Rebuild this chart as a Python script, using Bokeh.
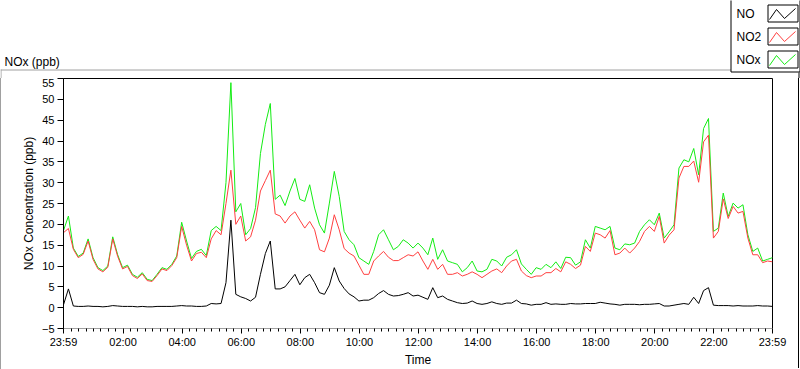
from bokeh.plotting import figure
from bokeh.models import Range1d, FixedTicker, ColumnDataSource
from bokeh.layouts import column
from bokeh.embed import file_html
from bokeh.resources import INLINE
from bokeh.core.properties import value

FONT = "Liberation Sans"

# ---- data: readings every 10 minutes starting at 23:59 (ppb) ----
sample_step_min = 10

nox_ppb = [18.5, 22.0, 14.3, 12.3, 13.1, 16.5, 12.0, 9.6, 8.9, 10.0,
           17.0, 12.7, 9.6, 10.2, 8.0, 7.3, 8.4, 6.8, 6.5, 8.0,
           9.6, 9.2, 10.4, 12.4, 20.5, 16.0, 11.8, 13.5, 14.0, 12.5,
           18.5, 19.5, 18.5, 30.0, 54.0, 23.0, 25.0, 17.5, 19.0, 24.0,
           37.0, 44.0, 49.0, 26.0, 27.0, 24.5, 28.0, 31.0, 26.0, 25.5,
           29.5, 23.9, 19.9, 17.9, 25.1, 32.7, 26.7, 18.3, 16.3, 15.1,
           12.0, 11.2, 10.4, 13.5, 17.5, 18.7, 16.3, 13.9, 14.7, 16.3,
           15.5, 14.3, 15.5, 14.3, 12.7, 16.7, 11.6, 13.9, 11.2, 10.8,
           10.4, 8.6, 9.6, 11.2, 8.8, 8.6, 9.2, 11.6, 11.2, 10.0,
           12.1, 12.7, 13.9, 10.5, 9.2, 8.0, 9.6, 9.2, 10.4, 9.6,
           11.0, 9.4, 12.1, 12.0, 10.2, 11.0, 16.3, 14.3, 19.5, 19.1,
           18.7, 19.5, 14.3, 13.9, 15.3, 15.1, 15.5, 18.3, 19.9, 21.1,
           19.9, 22.7, 16.7, 18.2, 19.9, 33.5, 35.5, 35.0, 38.2, 31.9,
           43.0, 45.4, 18.3, 19.1, 27.5, 21.9, 25.1, 23.9, 24.7, 17.5,
           13.5, 14.3, 11.2, 11.6, 12.0]

no2_ppb = [18.0, 19.0, 14.0, 12.0, 12.8, 16.0, 11.6, 9.3, 8.6, 9.7,
           16.5, 12.3, 9.3, 9.9, 7.7, 7.0, 8.1, 6.5, 6.3, 7.7,
           9.3, 8.9, 10.1, 12.0, 19.5, 15.0, 11.2, 13.0, 13.3, 12.0,
           16.5, 18.5, 17.5, 25.0, 33.0, 20.0, 22.0, 16.0, 17.0, 21.0,
           28.0, 30.5, 33.0, 22.5, 22.0, 20.3, 22.0, 23.0, 21.0, 19.1,
           20.7, 18.7, 13.9, 13.4, 16.7, 22.3, 18.7, 14.2, 13.1, 12.4,
           10.2, 8.0, 8.0, 11.2, 12.4, 13.5, 12.1, 11.3, 11.3, 12.0,
           12.7, 12.4, 13.4, 11.2, 9.2, 11.6, 9.2, 10.4, 8.0, 8.0,
           8.4, 7.6, 8.0, 8.6, 8.0, 7.2, 8.0, 8.8, 9.3, 8.4,
           10.0, 11.2, 11.6, 8.8, 7.7, 7.2, 7.6, 7.6, 8.4, 8.4,
           9.4, 8.6, 11.0, 10.4, 9.4, 10.2, 14.7, 13.5, 17.9, 17.5,
           16.7, 18.5, 12.7, 13.1, 14.3, 13.1, 14.3, 15.9, 18.3, 19.5,
           18.3, 21.9, 15.5, 17.4, 18.7, 31.1, 33.9, 33.9, 35.2, 30.1,
           39.8, 41.4, 16.7, 18.3, 26.1, 21.4, 24.3, 22.7, 23.1, 16.7,
           12.7, 12.7, 10.8, 11.2, 11.0]

no_ppb = [0.7, 4.5, 0.4, 0.3, 0.3, 0.4, 0.3, 0.3, 0.2, 0.3,
          0.5, 0.4, 0.3, 0.3, 0.3, 0.2, 0.3, 0.2, 0.2, 0.3,
          0.3, 0.3, 0.3, 0.4, 0.5, 0.4, 0.4, 0.3, 0.3, 0.4,
          1.0, 0.9, 1.0, 6.0, 21.0, 3.2, 2.6, 2.2, 1.6, 2.5,
          8.0, 13.0, 16.0, 4.5, 4.5, 5.0, 6.5, 8.0, 5.5, 7.2,
          8.0, 6.0, 3.6, 3.2, 5.4, 9.6, 6.4, 4.6, 3.3, 2.6,
          1.6, 1.8, 1.8, 2.4, 3.4, 4.1, 3.2, 2.8, 2.9, 3.2,
          3.6, 2.8, 3.0, 2.5, 2.0, 4.8, 2.4, 2.8, 2.0, 1.6,
          1.2, 1.0, 1.1, 1.6, 1.0, 0.8, 1.0, 1.4, 1.0, 0.8,
          1.1, 1.1, 1.8, 1.0, 0.9, 0.6, 0.8, 0.8, 1.2, 0.8,
          0.9, 0.8, 0.8, 1.0, 0.9, 0.9, 1.0, 1.0, 1.0, 1.3,
          1.1, 0.9, 0.8, 0.6, 0.8, 0.8, 0.8, 0.7, 0.8, 0.8,
          0.9, 1.0, 0.4, 0.4, 0.6, 0.8, 1.0, 0.8, 2.5, 1.0,
          4.1, 4.8, 0.6, 0.5, 0.5, 0.5, 0.4, 0.5, 0.4, 0.4,
          0.4, 0.5, 0.4, 0.4, 0.3]

minutes = [i * sample_step_min for i in range(len(nox_ppb))]

series_names = ["NO", "NO2", "NOx"]
series_colors = ["#000000", "#ff4040", "#14ec14"]

time_tick_labels = ["23:59", "02:00", "04:00", "06:00", "08:00", "10:00", "12:00",
                    "14:00", "16:00", "18:00", "20:00", "22:00", "23:59"]
y_ticks = [-5, 0, 5, 10, 15, 20, 25, 30, 35, 40, 45, 50, 55]

SPAN = 1440
START = 23 * 60 + 59


def tick_pos(label, idx, n):
    if idx == 0:
        return 0
    if idx == n - 1:
        return SPAN
    h, m = map(int, label.split(":"))
    return (h * 60 + m - START) % SPAN


n_lab = len(time_tick_labels)
major_pos = [tick_pos(l, i, n_lab) for i, l in enumerate(time_tick_labels)]
minor_pos = [1 + 15 * k for k in range(96)
             if min(abs(1 + 15 * k - mp) for mp in major_pos) > 5]

# ---- layout ----
W = 800
H_TOP = 78
H_MAIN = 369 - H_TOP

# top strip: caption + legend (pixel coordinates)
top = figure(width=W, height=H_TOP, x_range=Range1d(0, W), y_range=Range1d(H_TOP, 0),
             x_axis_type=None, y_axis_type=None, toolbar_location=None,
             output_backend="svg", min_border=0, outline_line_color=None)
top.xgrid.visible = False
top.ygrid.visible = False

top.text(x=[4], y=[61], text=["NOx (ppb)"], text_font=value(FONT),
         text_font_size=value("12px"), text_baseline="alphabetic", text_align="left",
         text_color="black")

# panel edges
top.segment(x0=[0, 0.5], y0=[69.5, 69], x1=[731, 0.5], y1=[69.5, 78],
            line_color="#a0a0a0", line_width=1)
top.segment(x0=[798.5], y0=[72], x1=[798.5], y1=[78], line_color="black", line_width=1)

# legend box
top.quad(left=[730.5], right=[799.5], top=[-2], bottom=[71.5],
         fill_color="white", line_color="black", line_width=1)
sw_top = [4.5, 27.5, 50.5]
sw_h = 17
top.quad(left=[767.5] * 3, right=[797.5] * 3, top=sw_top,
         bottom=[t + sw_h for t in sw_top], fill_color="white", line_color="black")
zig_dx = [1.5, 8.5, 16.5, 27.5]
zig_dy = [14.5, 4.5, 13.5, 3.5]
top.multi_line(xs=[[767.5 + d for d in zig_dx] for _ in sw_top],
               ys=[[t + d for d in zig_dy] for t in sw_top],
               line_color=series_colors, line_width=1)
top.text(x=[736] * 3, y=[t + 9 for t in sw_top], text=series_names,
         text_font=value(FONT), text_font_size=value("12px"), text_baseline="middle",
         text_align="left", text_color="black")

# main chart
p = figure(width=W, height=H_MAIN, x_range=Range1d(0, SPAN), y_range=Range1d(-5, 55),
           toolbar_location=None, output_backend="svg",
           min_border_left=63, min_border_right=28, min_border_top=0, min_border_bottom=39,
           x_axis_label="Time", y_axis_label="NOx Concentration (ppb)")
p.border_fill_color = None
p.background_fill_color = "white"
p.outline_line_color = "black"
p.xgrid.visible = False
p.ygrid.visible = False

for fig in (top, p):
    if "frame_align" in fig.properties():
        fig.frame_align = False

src = ColumnDataSource(dict(t=minutes, no=no_ppb, no2=no2_ppb, nox=nox_ppb))
p.line("t", "nox", source=src, line_color=series_colors[2], line_width=1)
p.line("t", "no2", source=src, line_color=series_colors[1], line_width=1)
p.line("t", "no", source=src, line_color=series_colors[0], line_width=1)

p.xaxis.ticker = FixedTicker(ticks=major_pos, minor_ticks=minor_pos)
p.xaxis.major_label_overrides = {mp: lab for mp, lab in zip(major_pos, time_tick_labels)}
p.yaxis.ticker = FixedTicker(ticks=y_ticks, minor_ticks=[])

for ax in (p.xaxis, p.yaxis):
    ax.major_label_text_font = FONT
    ax.major_label_text_font_size = "11px"
    ax.major_label_text_color = "black"
    ax.axis_label_text_font = FONT
    ax.axis_label_text_font_size = "12px"
    ax.axis_label_text_font_style = "normal"
    ax.axis_label_text_color = "black"
    ax.major_tick_line_color = "black"
    ax.minor_tick_line_color = "black"
    ax.major_tick_in = 0
    ax.minor_tick_in = 0

p.xaxis.major_tick_out = 5
p.xaxis.minor_tick_out = 3
p.xaxis.major_label_standoff = 2
p.xaxis.axis_label_standoff = 2
p.xaxis.axis_line_color = "#a0a0a0"
p.yaxis.major_tick_out = 6
p.yaxis.major_label_standoff = 3
p.yaxis.axis_label_standoff = 3
p.yaxis.axis_line_color = "black"

p.styles = {"box-shadow": "inset 1px 0 0 #a0a0a0, inset -1px -1px 0 #ffffff, inset -2px -1px 0 #000000"}

layout = column(top, p)

open("out.html", "w").write(file_html(layout, INLINE))
